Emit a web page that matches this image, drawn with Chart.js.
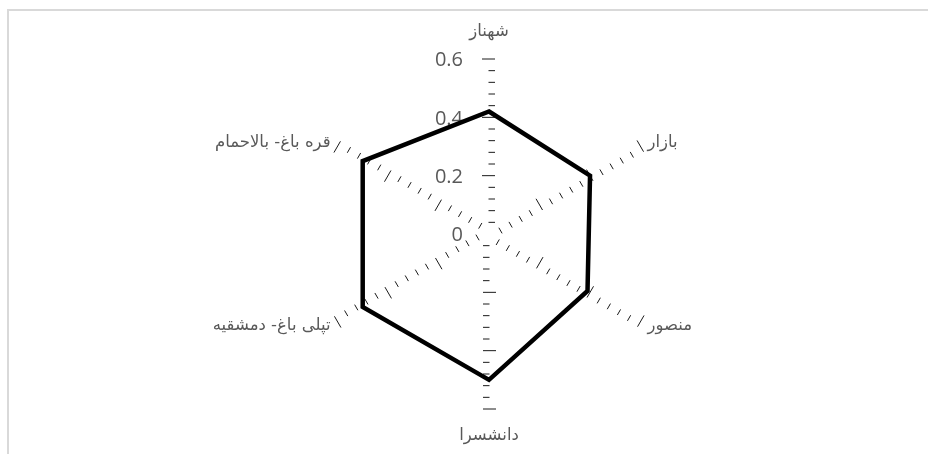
<!DOCTYPE html>
<html>
<head>
<meta charset="utf-8">
<script src="https://cdn.jsdelivr.net/npm/chart.js@4.4.0/dist/chart.umd.min.js"></script>
<style>
  html, body { margin: 0; padding: 0; background: #fff; }
  #wrap { position: relative; width: 928px; height: 454px; overflow: hidden; }
  #frame { position: absolute; left: 7px; top: 9px; width: 940px; height: 470px;
           border-left: 2px solid #d9d9d9; border-top: 2px solid #d9d9d9; }
</style>
</head>
<body>
<div id="wrap">
  <div id="frame"></div>
  <canvas id="radarChart"></canvas>
</div>
<script>
const districts = ['شهناز', 'بازار', 'منصور', 'دانشسرا', 'تپلی باغ- دمشقیه', 'قره باغ- بالاحمام'];
const values = [0.42, 0.40, 0.39, 0.50, 0.50, 0.50];
const valueTicks = [0, 0.2, 0.4, 0.6];
const minorStep = 0.04;

// excel-like spokes: only tick marks, labels drawn next to the top axis
const spokeTicks = {
    id: 'spokeTicks',
    beforeDatasetsDraw(chart) {
        const scale = chart.scales.r;
        const ctx = chart.ctx;
        const cx = scale.xCenter, cy = scale.yCenter;
        const max = valueTicks[valueTicks.length - 1];
        const steps = Math.round(max / minorStep);

        ctx.save();
        ctx.strokeStyle = '#1a1a1a';
        ctx.lineWidth = 1;
        districts.forEach((name, i) => {
            const end = scale.getPointPositionForValue(i, max);
            const len = Math.hypot(end.x - cx, end.y - cy);
            const dx = (end.x - cx) / len, dy = (end.y - cy) / len;
            const sx = -dy, sy = dx;
            for (let k = 1; k <= steps; k++) {
                const v = k * minorStep;
                const p = scale.getPointPositionForValue(i, v);
                const major = valueTicks.some(t => t > 0 && Math.abs(t - v) < 1e-6);
                const a = major ? -7 : -0.5, b = 6;
                ctx.beginPath();
                ctx.moveTo(p.x + sx * a, p.y + sy * a);
                ctx.lineTo(p.x + sx * b, p.y + sy * b);
                ctx.stroke();
            }
        });

        ctx.fillStyle = '#595959';
        ctx.font = '20px "Open Sans"';
        ctx.textAlign = 'right';
        ctx.textBaseline = 'middle';
        valueTicks.forEach(t => {
            const p = scale.getPointPositionForValue(0, t);
            ctx.fillText(String(t), p.x - 26, p.y + 1.5);
        });

        ctx.font = '16.5px "DejaVu Sans"';
        ctx.direction = 'rtl';
        districts.forEach((name, i) => {
            const end = scale.getPointPositionForValue(i, max);
            const ox = end.x - cx;
            const vertical = Math.abs(ox) < 1;
            const p = scale.getPointPosition(i, scale.drawingArea + (vertical ? 27 : 8));
            ctx.textAlign = vertical ? 'center' : (ox > 0 ? 'left' : 'right');
            ctx.fillText(name, p.x, p.y);
        });
        ctx.restore();
    }
};

new Chart(document.getElementById('radarChart'), {
    type: 'radar',
    data: {
        labels: districts,
        datasets: [{
            data: values,
            borderColor: '#000',
            borderWidth: 4.5,
            borderJoinStyle: 'miter',
            backgroundColor: 'transparent',
            fill: false,
            pointRadius: 0,
            pointHoverRadius: 0
        }]
    },
    options: {
        responsive: true,
        maintainAspectRatio: false,
        animation: false,
        layout: { padding: { left: 51, right: 0, top: 59, bottom: 44 } },
        plugins: { legend: { display: false }, tooltip: { enabled: false } },
        scales: {
            r: {
                min: 0,
                max: 0.6,
                ticks: { display: false, stepSize: 0.2 },
                grid: { display: false },
                angleLines: { display: false },
                pointLabels: { display: false }
            }
        }
    },
    plugins: [spokeTicks]
});
</script>
</body>
</html>
